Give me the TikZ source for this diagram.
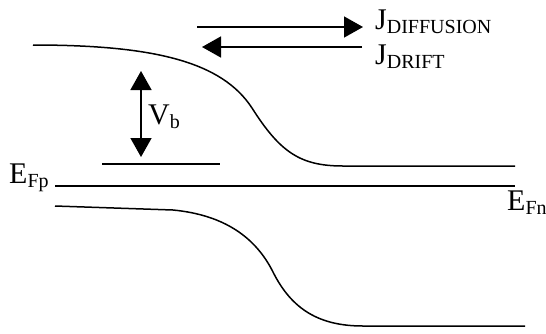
\documentclass[tikz,border=0pt]{standalone}
\usepackage{fontspec}
\setmainfont{Liberation Serif}
\usetikzlibrary{arrows.meta}
\newcommand{\lowsub}[1]{\raisebox{-4pt}{\fontsize{20}{22}\selectfont #1}}
\begin{document}
\begin{tikzpicture}[x=1pt,y=-1pt,
  band/.style={line width=1.5pt},
  bigarrow/.style={-{Triangle[length=19pt,width=21pt]}, line width=1.5pt},
  vbarrow/.style={{Triangle[length=19pt,width=21pt]}-{Triangle[length=19pt,width=21pt]}, line width=1.5pt},
  lbl/.style={inner sep=0pt, anchor=base west, font=\fontsize{30}{32}\selectfont}]
\useasboundingbox (0,0) rectangle (546,333);
% coordinates
\coordinate (cbL) at (33,45);
\coordinate (cbI) at (252,108);
\coordinate (cbE) at (343,166);
\coordinate (cbR) at (515,166);
\coordinate (vbL) at (55,206);
\coordinate (vbA) at (173,210);
\coordinate (vbI) at (273,272);
\coordinate (vbE) at (363,326);
\coordinate (vbR) at (525,326);
\coordinate (efL) at (55,186);
\coordinate (efR) at (515,186);
\coordinate (refL) at (102,164);
\coordinate (refR) at (220,164);
\coordinate (vbT) at (141,71);
\coordinate (vbB) at (141,157);
\coordinate (diffS) at (197,27);
\coordinate (diffE) at (363,27);
\coordinate (drS) at (362,47);
\coordinate (drE) at (202,47);
% conduction band
\draw[band] (cbL) .. controls (155,45) and (222,62) .. (cbI)
  .. controls (280,152) and (300,166) .. (cbE) -- (cbR);
% valence band
\draw[band] (vbL) -- (vbA) .. controls (225,215) and (256,238) .. (vbI)
  .. controls (292,310) and (320,326) .. (vbE) -- (vbR);
% Fermi level
\draw[band] (efL) -- (efR);
% reference level
\draw[band] (refL) -- (refR);
% Vb arrow
\draw[vbarrow] (vbT) -- (vbB);
% current arrows
\draw[bigarrow] (diffS) -- (diffE);
\draw[bigarrow] (drS) -- (drE);
% labels
\node[lbl] (jdiff) at (375,29) {J\lowsub{DIFFUSION}};
\node[lbl] (jdrift) at (375,64) {J\lowsub{DRIFT}};
\node[lbl] (vb) at (148,124) {V\lowsub{b}};
\node[lbl] (efp) at (9,183) {E\lowsub{Fp}};
\node[lbl] (efn) at (507,210) {E\lowsub{Fn}};
\end{tikzpicture}
\end{document}
